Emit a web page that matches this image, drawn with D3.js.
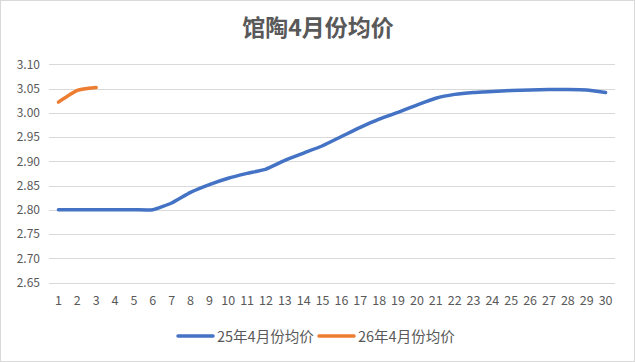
<!DOCTYPE html>
<html><head><meta charset="utf-8">
<script src="https://cdn.jsdelivr.net/npm/d3@7"></script>
<style>body{margin:0;background:#fff;}svg{display:block;}</style>
</head><body>
<script>
const title = "馆陶4月份均价";
const days = d3.range(1, 31).map(String);
const yTicks = [2.65, 2.70, 2.75, 2.80, 2.85, 2.90, 2.95, 3.00, 3.05, 3.10];
const seriesNames = ["25年4月份均价", "26年4月份均价"];
const series25 = [2.800, 2.800, 2.800, 2.800, 2.800, 2.800, 2.814, 2.836, 2.852, 2.865,
                  2.875, 2.884, 2.902, 2.917, 2.932, 2.951, 2.970, 2.987, 3.001, 3.016,
                  3.030, 3.038, 3.042, 3.044, 3.046, 3.047, 3.048, 3.048, 3.047, 3.042];
const series26 = [3.022, 3.046, 3.052];
const colors = ["#4472C4", "#ED7D31"];

const W = 635, H = 362;
const svg = d3.select("body").append("svg").attr("width", W).attr("height", H);
svg.append("rect").attr("x", 0.5).attr("y", 0.5).attr("width", W - 1).attr("height", H - 1)
  .attr("fill", "#fff").attr("stroke", "#d9d9d9");

const x = d3.scaleBand().domain(days).range([49, 615]);
const y = d3.scaleLinear().domain([2.65, 3.10]).range([282.5, 64.3]);
const font = "'Microsoft YaHei','Noto Sans CJK SC',sans-serif";

svg.append("text").attr("x", 318).attr("y", 36).attr("text-anchor", "middle")
  .attr("font-family", font).attr("font-size", 23).attr("font-weight", "bold")
  .attr("fill", "#595959").text(title);

// gridlines
svg.append("g").selectAll("line").data(yTicks).join("line")
  .attr("x1", 49).attr("x2", 615).attr("y1", d => Math.round(y(d)) + 0.5).attr("y2", d => Math.round(y(d)) + 0.5)
  .attr("stroke", "#d9d9d9").attr("stroke-width", 1);

// y axis
const yAxis = svg.append("g").attr("transform", "translate(40,0)")
  .call(d3.axisLeft(y).tickValues(yTicks).tickFormat(d3.format(".2f")).tickSize(0).tickPadding(0));
yAxis.select(".domain").remove();
yAxis.selectAll("text").attr("font-family", font).attr("font-size", 12).attr("fill", "#595959");

// x axis
const xAxis = svg.append("g").attr("transform", "translate(0,282.5)")
  .call(d3.axisBottom(x).tickSize(0).tickPadding(14));
xAxis.select(".domain").remove();
xAxis.selectAll("text").attr("font-family", font).attr("font-size", 12.5).attr("fill", "#595959");

const line = d3.line().x((d, i) => x(days[i]) + x.bandwidth() / 2).y(d => y(d))
  .curve(d3.curveCardinal.tension(0.5));
[series25, series26].forEach((s, i) => {
  svg.append("path").attr("d", line(s)).attr("fill", "none").attr("stroke", colors[i])
    .attr("stroke-width", 3.5).attr("stroke-linecap", "round").attr("stroke-linejoin", "round");
});

// legend
const legendItems = [{x: 178, name: seriesNames[0], c: colors[0]}, {x: 319, name: seriesNames[1], c: colors[1]}];
const lg = svg.append("g");
legendItems.forEach(it => {
  lg.append("line").attr("x1", it.x).attr("x2", it.x + 35).attr("y1", 336).attr("y2", 336)
    .attr("stroke", it.c).attr("stroke-width", 3.5).attr("stroke-linecap", "round");
  lg.append("text").attr("x", it.x + 39).attr("y", 342).attr("font-family", font)
    .attr("font-size", 14.5).attr("fill", "#595959").text(it.name);
});
</script>
</body></html>
